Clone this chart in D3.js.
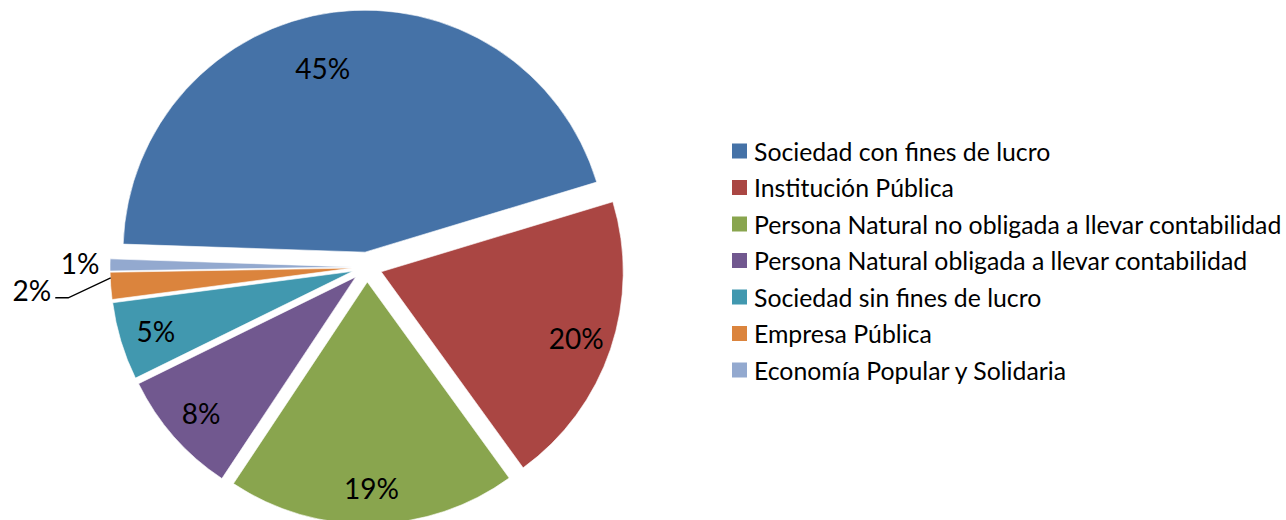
<!DOCTYPE html>
<html>
<head>
  <meta charset="UTF-8">
  <style>
    body { margin: 0; background: #fff; }
    text { font-family: Lato, "Noto Sans", sans-serif; fill: #000; }
  </style>
</head>
<body>
<svg id="chart"></svg>
<script src="https://d3js.org/d3.v7.min.js"></script>
<script>

let width = 1286, height = 520;

// data (shares in %)
var categories = ["Sociedad con fines de lucro", "Institución Pública",
    "Persona Natural no obligada a llevar contabilidad",
    "Persona Natural obligada a llevar contabilidad",
    "Sociedad sin fines de lucro", "Empresa Pública",
    "Economía Popular y Solidaria"]
var values = [44.8, 19.7, 19.3, 8.4, 5.2, 1.8, 0.8]
var colors = ["#4572A7", "#AA4643", "#89A54E", "#71588F", "#4198AF", "#DB843D", "#93A9CF"]

let svg = d3.select("#chart")
    .attr("width", width)
    .attr("height", height)

let cx = 367, cy = 267, R = 242, explode = 15
let start = -88.1 * Math.PI / 180

var pie = d3.pie()
    .sort(null)
    .value(d => d)
    .startAngle(start)
    .endAngle(start + 2 * Math.PI)

var arcs = pie(values)
var arc = d3.arc().innerRadius(0).outerRadius(R)
var pct = d => Math.round(d.value) + "%"

function mid(d) { return (d.startAngle + d.endAngle) / 2 }
function polar(a, r) { return [r * Math.sin(a), -r * Math.cos(a)] }
function off(d, r) { return polar(mid(d), r) }

let g = svg.append("g").attr("transform", "translate(" + cx + "," + cy + ")")

g.selectAll("path")
    .data(arcs)
    .enter()
    .append("path")
    .attr("d", arc)
    .attr("fill", (d, i) => colors[i])
    .attr("stroke", "#fff")
    .attr("stroke-width", 0.6)
    .attr("transform", d => "translate(" + off(d, explode) + ")")

// labels inside the big slices (the biggest one sits a bit further in, like excel's best fit)
g.selectAll("text.inside")
    .data(arcs.filter(d => d.value >= 3))
    .enter()
    .append("text")
    .attr("class", "inside")
    .attr("transform", function(d) {
        let big = d.value > 40
        let a = mid(d) - (big ? 5.5 * Math.PI / 180 : 0)
        let c = polar(a, R * (big ? 0.78 : 0.85)), o = off(d, explode)
        return "translate(" + (c[0] + o[0]) + "," + (c[1] + o[1]) + ")"
    })
    .attr("text-anchor", "middle")
    .attr("dominant-baseline", "central")
    .style("font-size", "28px")
    .text(pct)

// small slices: labels outside, the 2% one with a leader line
var small = arcs.filter(d => d.value < 3)
small.forEach(function(d) {
    let far = d.value > 1.5
    let p = off(d, far ? R + 94 : R + 45)
    p[1] -= 2
    let t = g.append("text")
        .attr("x", p[0]).attr("y", p[1])
        .attr("text-anchor", "middle")
        .attr("dominant-baseline", "central")
        .style("font-size", "28px")
        .text(pct(d))
    if (far) {
        let w = t.node().getComputedTextLength()
        let a = off(d, R + explode)
        let a2 = [a[0], a[1] - 8]
        let x0 = p[0] + w / 2 + 4, y0 = p[1] + 8
        g.append("path")
            .attr("d", "M" + x0 + "," + y0 + "H" + (x0 + 13) + "L" + a2[0] + "," + a2[1])
            .attr("fill", "none")
            .attr("stroke", "#000")
            .attr("stroke-width", 1.3)
    }
})

// legend
let lx = 732, ly = 151, step = 36.5, size = 15
let legend = svg.append("g")
legend.selectAll("rect")
    .data(categories)
    .enter()
    .append("rect")
    .attr("x", lx)
    .attr("y", (d, i) => ly + i * step - size / 2)
    .attr("width", size)
    .attr("height", size)
    .style("fill", (d, i) => colors[i])

legend.selectAll("text")
    .data(categories)
    .enter()
    .append("text")
    .attr("x", lx + 22)
    .attr("y", (d, i) => ly + i * step)
    .attr("dominant-baseline", "central")
    .style("font-size", "24.8px")
    .text(d => d)

</script>
</body>
</html>
